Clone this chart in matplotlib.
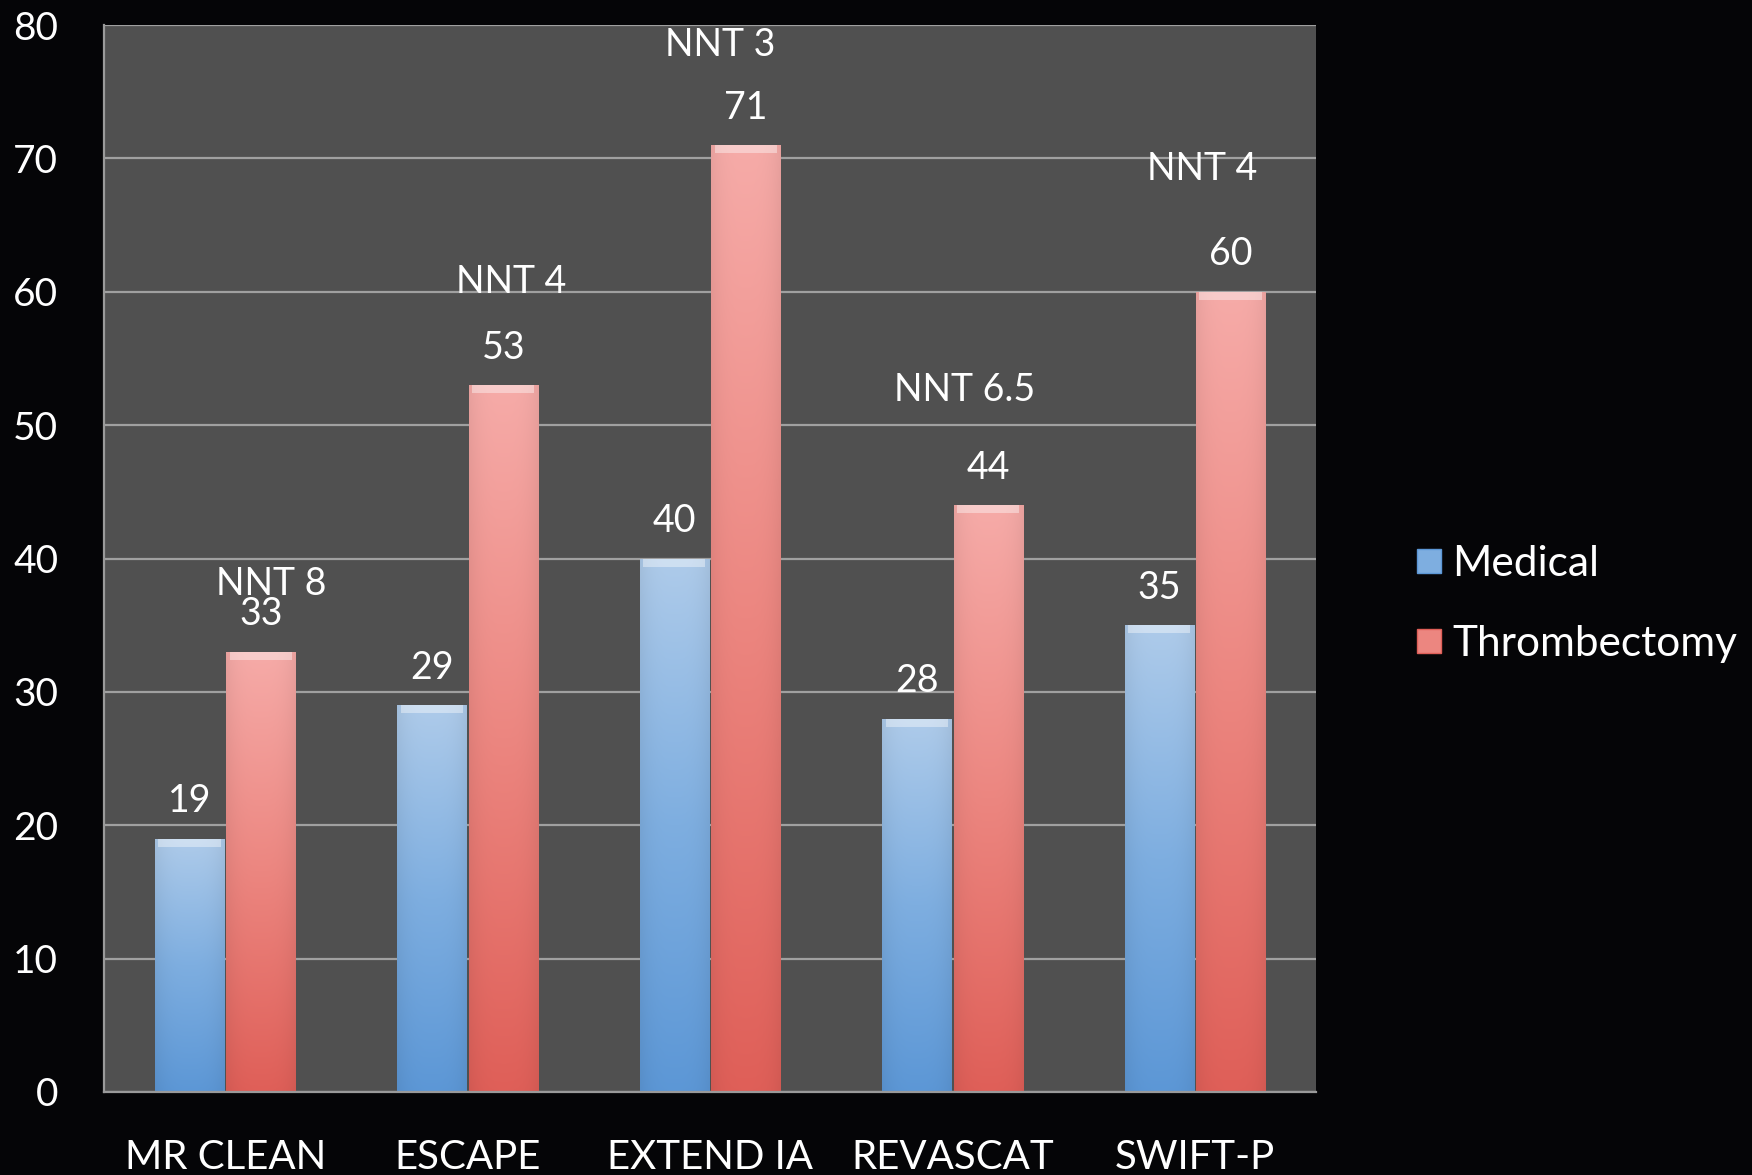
import numpy as np
import matplotlib
matplotlib.use("Agg")
import matplotlib.pyplot as plt
from matplotlib.colors import LinearSegmentedColormap
from matplotlib.lines import Line2D

# Trial results: % good functional outcome
trials = ["MR CLEAN", "ESCAPE", "EXTEND IA", "REVASCAT", "SWIFT-P"]
medical = [19, 29, 40, 28, 35]
thrombectomy = [33, 53, 71, 44, 60]
nnt_labels = ["NNT 8", "NNT 4", "NNT 3", "NNT 6.5", "NNT 4"]
# where each NNT note sits: (x offset from category centre, y in data units)
nnt_pos = [(0.19, 38.1), (0.18, 60.7), (0.04, 78.5), (0.05, 52.6), (0.03, 69.2)]
yticks = [0, 10, 20, 30, 40, 50, 60, 70, 80]

plt.rcParams['font.family'] = ['Lato', 'DejaVu Sans']

fig = plt.figure(figsize=(17.52, 11.75), dpi=100, facecolor="#050507")
ax = fig.add_axes([104 / 1752, 83 / 1175, (1316 - 104) / 1752, (1150 - 83) / 1175])
ax.set_facecolor("#505050")

x = np.arange(len(trials))
w = 0.285
blue_cmap = LinearSegmentedColormap.from_list("b", ["#5c97d6", "#7eaee0", "#aecbea"])
red_cmap = LinearSegmentedColormap.from_list("r", ["#df5f58", "#ec8680", "#f6aba8"])

grad = np.linspace(0, 1, 256).reshape(-1, 1)
# slight darkening towards the bar sides
side = 1 - 0.06 * np.abs(np.linspace(-1, 1, 64)) ** 3


def gradient_bars(xs, vals, cmap):
    bars = ax.bar(xs, vals, width=w, color="none", edgecolor="none", zorder=3)
    for b in bars:
        x0, y0 = b.get_x(), b.get_y()
        bw, bh = b.get_width(), b.get_height()
        rgb = cmap(grad)[:, :, :3] * side[None, :, None]
        im = ax.imshow(rgb, extent=[x0, x0 + bw, y0, y0 + bh], origin="lower",
                       aspect="auto", zorder=3, interpolation="bilinear")
        im.set_clip_path(b)
        # light bevel at the top edge
        ax.fill_between([x0 + bw * 0.05, x0 + bw * 0.95], y0 + bh - 0.6, y0 + bh,
                        color="white", alpha=0.4, lw=0, zorder=4)
    return bars


gradient_bars(x - w / 2 - 0.005, medical, blue_cmap)
gradient_bars(x + w / 2 + 0.005, thrombectomy, red_cmap)

ax.set_xlim(-0.5, len(trials) - 0.5)
ax.set_ylim(0, 80)
ax.set_yticks(yticks)
ax.set_xticks(x)
ax.set_xticklabels(trials)
ax.yaxis.grid(True, color="#a0a0a0", lw=1.6, zorder=1)
ax.set_axisbelow(True)
for s in ["right", "top"]:
    ax.spines[s].set_visible(False)
for s in ["left", "bottom"]:
    ax.spines[s].set_color("#9a9a9a")
    ax.spines[s].set_linewidth(1.6)
    ax.spines[s].set_zorder(5)
ax.tick_params(axis="y", length=0, pad=33, labelsize=28, labelcolor="white")
ax.tick_params(axis="x", length=0, pad=34, labelsize=29, labelcolor="white")

txt = dict(color="white", fontsize=27, ha="center", va="center", zorder=6)
for i in range(len(trials)):
    ax.annotate(str(medical[i]), (x[i] - w / 2 - 0.005, medical[i]),
                xytext=(0, 27), textcoords="offset points", **txt)
    ax.annotate(str(thrombectomy[i]), (x[i] + w / 2 + 0.005, thrombectomy[i]),
                xytext=(0, 27), textcoords="offset points", **txt)
    dx, yv = nnt_pos[i]
    ax.text(x[i] + dx, yv, nnt_labels[i], **txt)

handles = [
    Line2D([], [], marker="s", ls="none", ms=17, markerfacecolor="#7eaee0",
           markeredgecolor="#5c97d6"),
    Line2D([], [], marker="s", ls="none", ms=17, markerfacecolor="#ec8680",
           markeredgecolor="#df5f58"),
]
fig.legend(handles, ["Medical", "Thrombectomy"], loc="center left",
           bbox_to_anchor=(1374 / 1752, 1 - 604 / 1175), frameon=False,
           fontsize=30.5, labelcolor="white", handletextpad=0.15, labelspacing=1.0,
           handlelength=0.8)

fig.savefig("out.png", dpi=100, facecolor=fig.get_facecolor())
